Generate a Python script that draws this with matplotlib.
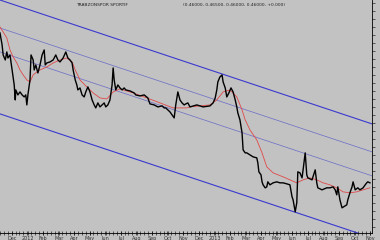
import matplotlib
matplotlib.use("Agg")
import matplotlib.pyplot as plt
import numpy as np
from matplotlib.ticker import MultipleLocator, FixedLocator

# ---- data (days from start, price) ----
price_days = [0, 4, 6, 10, 13, 15, 19, 23, 27, 29, 30, 34, 38, 42, 46, 49, 51, 53, 57, 59,
              63, 65, 68, 72, 76, 80, 84, 86, 89, 95, 101, 106, 110, 114, 120, 125, 129, 133, 137, 139,
              143, 146, 148, 152, 156, 160, 163, 167, 171, 175, 179, 182, 186, 190, 194, 198, 201, 205, 209, 213,
              215, 217, 220, 224, 228, 232, 236, 239, 247, 255, 258, 266, 274, 281, 285, 293, 300, 308, 312, 315,
              319, 323, 327, 331, 334, 338, 342, 346, 350, 353, 357, 361, 374, 386, 399, 405, 409, 412, 414, 418,
              422, 424, 428, 431, 435, 439, 443, 447, 450, 452, 456, 460, 462, 466, 469, 475, 481, 488, 490, 492,
              496, 498, 500, 504, 507, 509, 513, 519, 526, 532, 538, 545, 551, 555, 557, 561, 564, 566, 570, 574,
              576, 580, 583, 585, 593, 599, 602, 604, 612, 621, 627, 633, 637, 640, 642, 646, 650, 656, 659, 661,
              665, 669, 671, 675, 680, 684, 690, 694, 697, 699, 703]
price_vals = [1.210, 1.150, 1.100, 1.075, 1.115, 1.085, 1.100, 1.025, 0.950, 0.875, 0.925, 0.900, 0.915, 0.900, 0.890, 0.900, 0.850, 0.900, 0.975, 1.100,
              1.075, 1.025, 1.050, 1.010, 1.050, 1.100, 1.125, 1.050, 1.060, 1.065, 1.075, 1.100, 1.075, 1.065, 1.085, 1.115, 1.085, 1.075, 1.060, 1.025,
              0.975, 0.950, 0.925, 0.935, 0.900, 0.890, 0.915, 0.940, 0.915, 0.875, 0.850, 0.835, 0.860, 0.840, 0.850, 0.860, 0.840, 0.850, 0.875, 0.950,
              1.035, 0.975, 0.925, 0.950, 0.935, 0.925, 0.935, 0.925, 0.920, 0.910, 0.900, 0.895, 0.900, 0.885, 0.855, 0.850, 0.840, 0.845, 0.835, 0.835,
              0.825, 0.815, 0.800, 0.785, 0.850, 0.915, 0.875, 0.860, 0.850, 0.855, 0.860, 0.840, 0.850, 0.840, 0.845, 0.860, 0.885, 0.925, 0.965, 0.990,
              1.000, 0.965, 0.935, 0.890, 0.910, 0.935, 0.915, 0.875, 0.840, 0.810, 0.775, 0.710, 0.625, 0.610, 0.610, 0.600, 0.590, 0.585, 0.560, 0.515,
              0.500, 0.465, 0.450, 0.435, 0.440, 0.465, 0.450, 0.460, 0.465, 0.460, 0.460, 0.455, 0.450, 0.390, 0.375, 0.315, 0.360, 0.515, 0.510, 0.485,
              0.525, 0.610, 0.500, 0.485, 0.475, 0.525, 0.460, 0.435, 0.425, 0.435, 0.435, 0.440, 0.425, 0.400, 0.440, 0.375, 0.335, 0.345, 0.350, 0.375,
              0.410, 0.440, 0.465, 0.425, 0.435, 0.425, 0.435, 0.450, 0.460, 0.465, 0.460]

ma_days = [0, 6, 13, 19, 25, 32, 38, 44, 51, 57, 63, 70, 76, 89, 101, 114, 127, 137, 143, 152,
           165, 177, 190, 203, 215, 228, 253, 279, 304, 329, 355, 361, 399, 412, 424, 437, 450, 460, 466, 475,
           488, 498, 507, 519, 538, 551, 564, 576, 589, 602, 614, 627, 640, 652, 665, 678, 690, 703]
ma_vals = [1.240, 1.215, 1.185, 1.125, 1.090, 1.060, 1.025, 1.000, 0.975, 0.965, 1.000, 1.015, 1.025, 1.040, 1.060, 1.075, 1.085, 1.065, 1.025, 0.975,
           0.940, 0.910, 0.885, 0.880, 0.915, 0.930, 0.910, 0.885, 0.860, 0.835, 0.835, 0.840, 0.850, 0.875, 0.915, 0.925, 0.890, 0.825, 0.775, 0.725,
           0.675, 0.610, 0.540, 0.510, 0.490, 0.475, 0.460, 0.475, 0.485, 0.475, 0.460, 0.450, 0.435, 0.415, 0.410, 0.415, 0.425, 0.435]

channel_days = [0, 707]
channel_upper = [1.375, 0.755]
channel_mid1 = [1.235, 0.615]
channel_mid2 = [1.115, 0.495]
channel_lower = [0.805, 0.185]

month_labels = ["Dec", "2012", "Feb", "Mar", "Apr", "May", "Jun", "Jul", "Aug", "Sep", "Oct", "Nov",
                "Dec", "2013", "Feb", "Mar", "Apr", "May", "Jun", "Jul", "Aug", "Sep", "Oct", "Nov"]

title_name = "TRABZONSPOR SPORTIF"
title_vals = "(0.46000, 0.46500, 0.46000, 0.46000, +0.000)"

bg = "#c2c2c2"
fig = plt.figure(figsize=(3.8, 2.4), dpi=100, facecolor=bg)
ax = fig.add_axes([0.0, 0.03, 0.979, 0.97])
ax.set_facecolor(bg)

ax.plot(channel_days, channel_upper, color="#3a3ad0", lw=0.8)
ax.plot(channel_days, channel_lower, color="#3a3ad0", lw=0.8)
ax.plot(channel_days, channel_mid1, color="#6a6ac8", lw=0.5)
ax.plot(channel_days, channel_mid2, color="#6a6ac8", lw=0.5)
ax.plot(ma_days, ma_vals, color="#e04848", lw=0.6)
ax.plot(price_days, price_vals, color="black", lw=1.0)

ax.set_xlim(0, 707)
ax.set_ylim(0.21, 1.375)

for s in ["left", "top"]:
    ax.spines[s].set_visible(False)
ax.spines["bottom"].set_linewidth(0.6)
ax.spines["right"].set_linewidth(0.6)

tick_pos = 23 + 29.6 * np.arange(len(month_labels))
ax.xaxis.set_major_locator(FixedLocator(tick_pos))
ax.set_xticklabels(month_labels, fontsize=3.5, color="#333333")
ax.xaxis.set_minor_locator(MultipleLocator(7.4))
ax.tick_params(axis="x", which="both", direction="inout", length=3, width=0.4, pad=0.5)

ax.yaxis.tick_right()
ax.yaxis.set_major_locator(MultipleLocator(0.04))
ax.tick_params(axis="y", which="both", direction="out", length=2.5, width=0.4, labelright=False)

ax.text(0.275, 0.985, title_name, transform=ax.transAxes, fontsize=3.2, color="#222222",
        ha="center", va="top")
ax.text(0.63, 0.985, title_vals, transform=ax.transAxes, fontsize=3.2, color="#222222",
        ha="center", va="top")

fig.savefig("out.png", dpi=100, facecolor=bg)
